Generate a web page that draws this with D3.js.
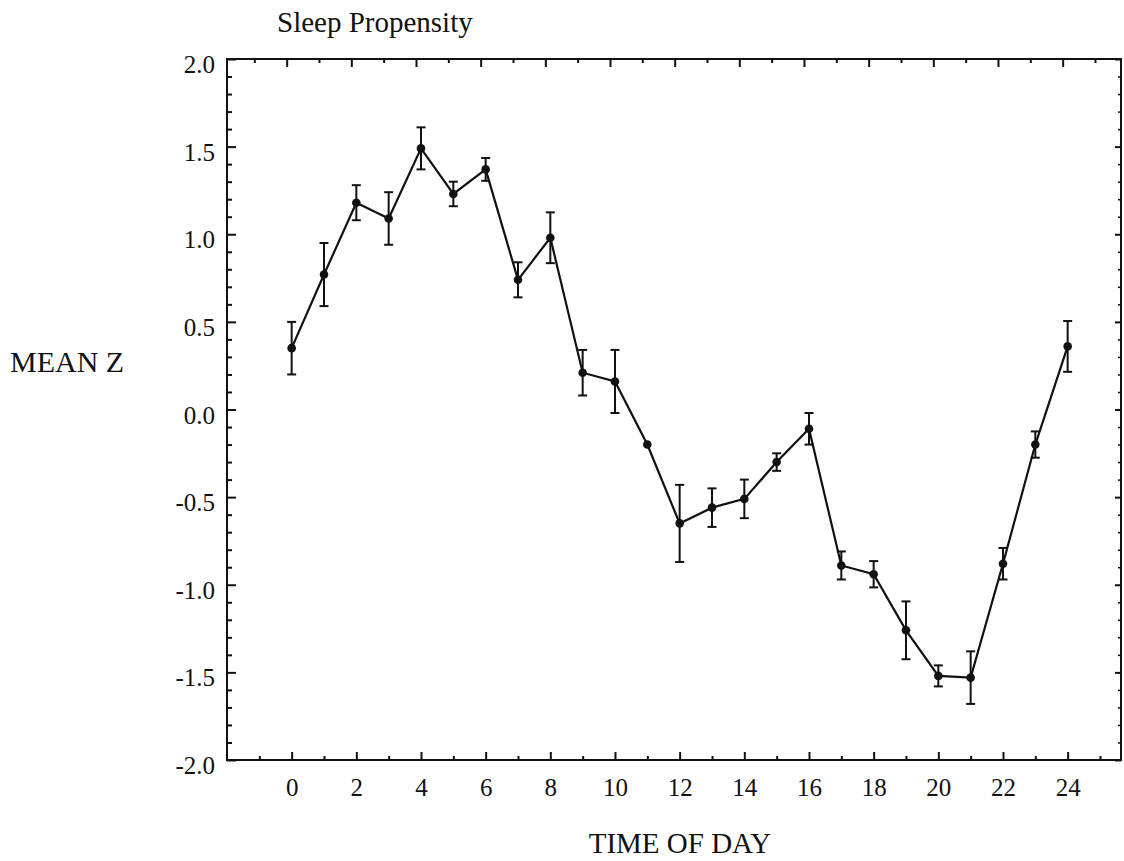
<!DOCTYPE html>
<html>
<head>
<meta charset="utf-8">
<script src="https://cdn.jsdelivr.net/npm/d3@7"></script>
<style>
  html, body { margin: 0; padding: 0; background: #fff; }
  svg { display: block; }
  text { font-family: "Liberation Serif", "Times New Roman", serif; fill: #111; }
</style>
</head>
<body>
<svg id="chart" width="1124" height="861"></svg>
<script>
// ---- data ----
const hours = [0,1,2,3,4,5,6,7,8,9,10,11,12,13,14,15,16,17,18,19,20,21,22,23,24];
const meanZ = [0.35,0.77,1.18,1.09,1.49,1.23,1.37,0.74,0.98,0.21,0.16,-0.20,-0.65,-0.56,-0.51,-0.30,-0.11,-0.89,-0.94,-1.26,-1.52,-1.53,-0.88,-0.20,0.36];
const errZ  = [0.15,0.18,0.10,0.15,0.12,0.07,0.065,0.10,0.145,0.13,0.18,0.0,0.22,0.11,0.11,0.05,0.09,0.08,0.075,0.165,0.06,0.15,0.09,0.075,0.145];
const xMajorTicks = [0,2,4,6,8,10,12,14,16,18,20,22,24];
const xMinorTicks = [-1,1,3,5,7,9,11,13,15,17,19,21,23,25];
const yMajorTicks = [2.0,1.5,1.0,0.5,0.0,-0.5,-1.0,-1.5,-2.0];
const yTickLabels = ["2.0","1.5","1.0","0.5","0.0","-0.5","-1.0","-1.5","-2.0"];
const yMinorTicks = d3.range(-19, 20).filter(v => v % 5 !== 0).map(v => v / 10);
const titleText = "Sleep Propensity";
const xTitle = "TIME OF DAY";
const yTitle = "MEAN Z";

(function () {
// ---- layout ----
const svg = d3.select("#chart");
const pL = 227, pR = 1121, pT = 59, pB = 760;
const x = d3.scaleLinear().domain([-2, 25.65]).range([pL, pR]);
const y = d3.scaleLinear().domain([-2, 2]).range([pB, pT]);
const ink = "#111";

// frame
svg.append("rect")
  .attr("x", pL).attr("y", pT)
  .attr("width", pR - pL).attr("height", pB - pT)
  .attr("fill", "none").attr("stroke", ink).attr("stroke-width", 2);

function styleAxis(g) {
  g.select(".domain").remove();
  g.selectAll(".tick line").attr("stroke", ink).attr("stroke-width", 2);
}

// bottom axis (ticks inward)
const gB = svg.append("g").attr("transform", `translate(0,${pB})`)
  .call(d3.axisBottom(x).tickValues(xMajorTicks).tickSize(-8).tickFormat(d3.format("d")));
styleAxis(gB);
gB.selectAll(".tick text")
  .attr("y", 36).attr("dy", 0)
  .attr("font-size", 25).attr("fill", ink)
  .attr("font-family", "Liberation Serif, serif");
const gBm = svg.append("g").attr("transform", `translate(0,${pB})`)
  .call(d3.axisBottom(x).tickValues(xMinorTicks).tickSize(-4).tickFormat(""));
styleAxis(gBm);

// top axis (ticks inward)
const gT = svg.append("g").attr("transform", `translate(-5,${pT})`)
  .call(d3.axisTop(x).tickValues(xMajorTicks).tickSize(-8).tickFormat(""));
styleAxis(gT);
const gTm = svg.append("g").attr("transform", `translate(-5,${pT})`)
  .call(d3.axisTop(x).tickValues(xMinorTicks).tickSize(-4).tickFormat(""));
styleAxis(gTm);

// left axis (ticks inward)
const gL = svg.append("g").attr("transform", `translate(${pL},0)`)
  .call(d3.axisLeft(y).tickValues(yMajorTicks).tickSize(-9)
        .tickFormat((d, i) => yTickLabels[i]));
styleAxis(gL);
gL.selectAll(".tick text")
  .attr("x", -12).attr("dy", 0).attr("y", 13.5)
  .attr("text-anchor", "end")
  .attr("font-size", 25).attr("fill", ink)
  .attr("font-family", "Liberation Serif, serif");
const gLm = svg.append("g").attr("transform", `translate(${pL},0)`)
  .call(d3.axisLeft(y).tickValues(yMinorTicks).tickSize(-5).tickFormat(""));
styleAxis(gLm);

// right axis (ticks inward)
const gR = svg.append("g").attr("transform", `translate(${pR},0)`)
  .call(d3.axisRight(y).tickValues(yMajorTicks).tickSize(-6).tickFormat(""));
styleAxis(gR);
const gRm = svg.append("g").attr("transform", `translate(${pR},0)`)
  .call(d3.axisRight(y).tickValues(yMinorTicks).tickSize(-3).tickFormat(""));
styleAxis(gRm);
gRm.selectAll(".tick line").attr("stroke-width", 1.5);

// data
const pts = hours.map((h, i) => ({h, v: meanZ[i], e: errZ[i]}));

// error bars
const eb = svg.append("g").attr("stroke", ink).attr("stroke-width", 2).attr("fill", "none");
pts.filter(d => d.e > 0).forEach(d => {
  const cx = x(d.h), y1 = y(d.v + d.e), y2 = y(d.v - d.e);
  eb.append("line").attr("x1", cx).attr("x2", cx).attr("y1", y1).attr("y2", y2);
  eb.append("line").attr("x1", cx - 4.5).attr("x2", cx + 4.5).attr("y1", y1).attr("y2", y1);
  eb.append("line").attr("x1", cx - 4.5).attr("x2", cx + 4.5).attr("y1", y2).attr("y2", y2);
});

// line
svg.append("path").datum(pts)
  .attr("fill", "none").attr("stroke", ink).attr("stroke-width", 2.2)
  .attr("d", d3.line().x(d => x(d.h)).y(d => y(d.v)));

// markers
svg.append("g").selectAll("circle").data(pts).join("circle")
  .attr("cx", d => x(d.h)).attr("cy", d => y(d.v)).attr("r", 4.3)
  .attr("fill", ink);

// titles
svg.append("text").attr("x", 277).attr("y", 32)
  .attr("font-size", 29).text(titleText);
svg.append("text").attr("x", 10).attr("y", 372)
  .attr("font-size", 30).text(yTitle);
svg.append("text").attr("x", 680).attr("y", 853).attr("text-anchor", "middle")
  .attr("font-size", 29).text(xTitle);
})();
</script>
</body>
</html>
